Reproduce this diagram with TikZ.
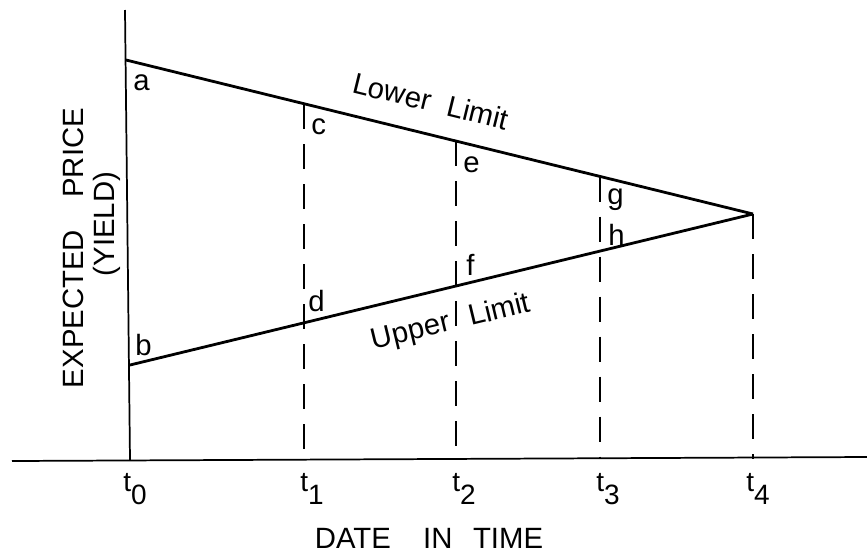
\documentclass[tikz,border=0pt]{standalone}
\usepackage{fontspec}
\setmainfont{Liberation Sans}
\begin{document}
\begin{tikzpicture}[x=0.75pt,y=-0.75pt,
  axisline/.style={line width=1.3pt,black},
  limitline/.style={line width=2.1pt,black},
  dashline/.style={line width=1.3pt,black,dash pattern=on 19pt off 11pt},
  ptlabel/.style={inner sep=0pt,anchor=base west,font=\fontsize{22}{24}\selectfont},
  bigtext/.style={inner sep=0pt,font=\fontsize{22}{26}\selectfont},
  ticklabel/.style={inner sep=0pt,anchor=base west,font=\fontsize{21}{24}\selectfont}]
\useasboundingbox (0,0) rectangle (867,558);
% axes
\coordinate (Ytop) at (125,10);
\coordinate (O) at (130,460);
\coordinate (Xleft) at (12,461);
\coordinate (Xright) at (867,457);
\draw[axisline] (Ytop) -- (O);
\draw[axisline] (Xleft) -- (Xright);
% limit lines
\coordinate (A) at (126,60);
\coordinate (B) at (130,365);
\coordinate (T4) at (753,214);
\draw[limitline] (A) -- (T4);
\draw[limitline] (B) -- (T4);
% points on lines
\coordinate (C) at (304,104);
\coordinate (E) at (456,141);
\coordinate (G) at (600,176.5);
\coordinate (F1) at (304,459);
\coordinate (F2) at (456,459);
\coordinate (F3) at (600,459);
\coordinate (F4) at (753,459);
\draw[dashline] (C) -- (F1);
\draw[dashline] (E) -- (F2);
\draw[dashline] (G) -- (F3);
\draw[dashline] (T4) -- (F4);
% point labels
\node[ptlabel] (la) at (133,90) {a};
\node[ptlabel] (lb) at (135,355) {b};
\node[ptlabel] (lc) at (311,134) {c};
\node[ptlabel] (ld) at (308,311) {d};
\node[ptlabel] (le) at (463,172) {e};
\node[ptlabel] (lf) at (466,275) {f};
\node[ptlabel] (lg) at (607,204) {g};
\node[ptlabel] (lh) at (608,245) {h};
% line labels
\node[bigtext,rotate=-13.8] (lower) at (431,101) {Lower\hspace{0.6em}Limit};
\node[bigtext,rotate=13.6] (upper) at (451,323) {Upper\hspace{0.7em}Limit};
% axis titles
\node[bigtext,rotate=90] (ylab) at (73,248) {EXPECTED\hspace{1.1em}PRICE};
\node[bigtext,rotate=90] (ylab2) at (107,224) {(YIELD)};
\node[bigtext,anchor=base] (xlab) at (429,548) {DATE\hspace{1.1em}IN\hspace{0.7em}TIME};
% tick labels
\node[ticklabel] (t0) at (123,491) {t\raisebox{-10pt}{0}};
\node[ticklabel] (t1) at (300,491) {t\raisebox{-10pt}{1}};
\node[ticklabel] (t2) at (452,491) {t\raisebox{-10pt}{2}};
\node[ticklabel] (t3) at (596,491) {t\raisebox{-10pt}{3}};
\node[ticklabel] (t4) at (746,491) {t\raisebox{-10pt}{4}};
\end{tikzpicture}
\end{document}
